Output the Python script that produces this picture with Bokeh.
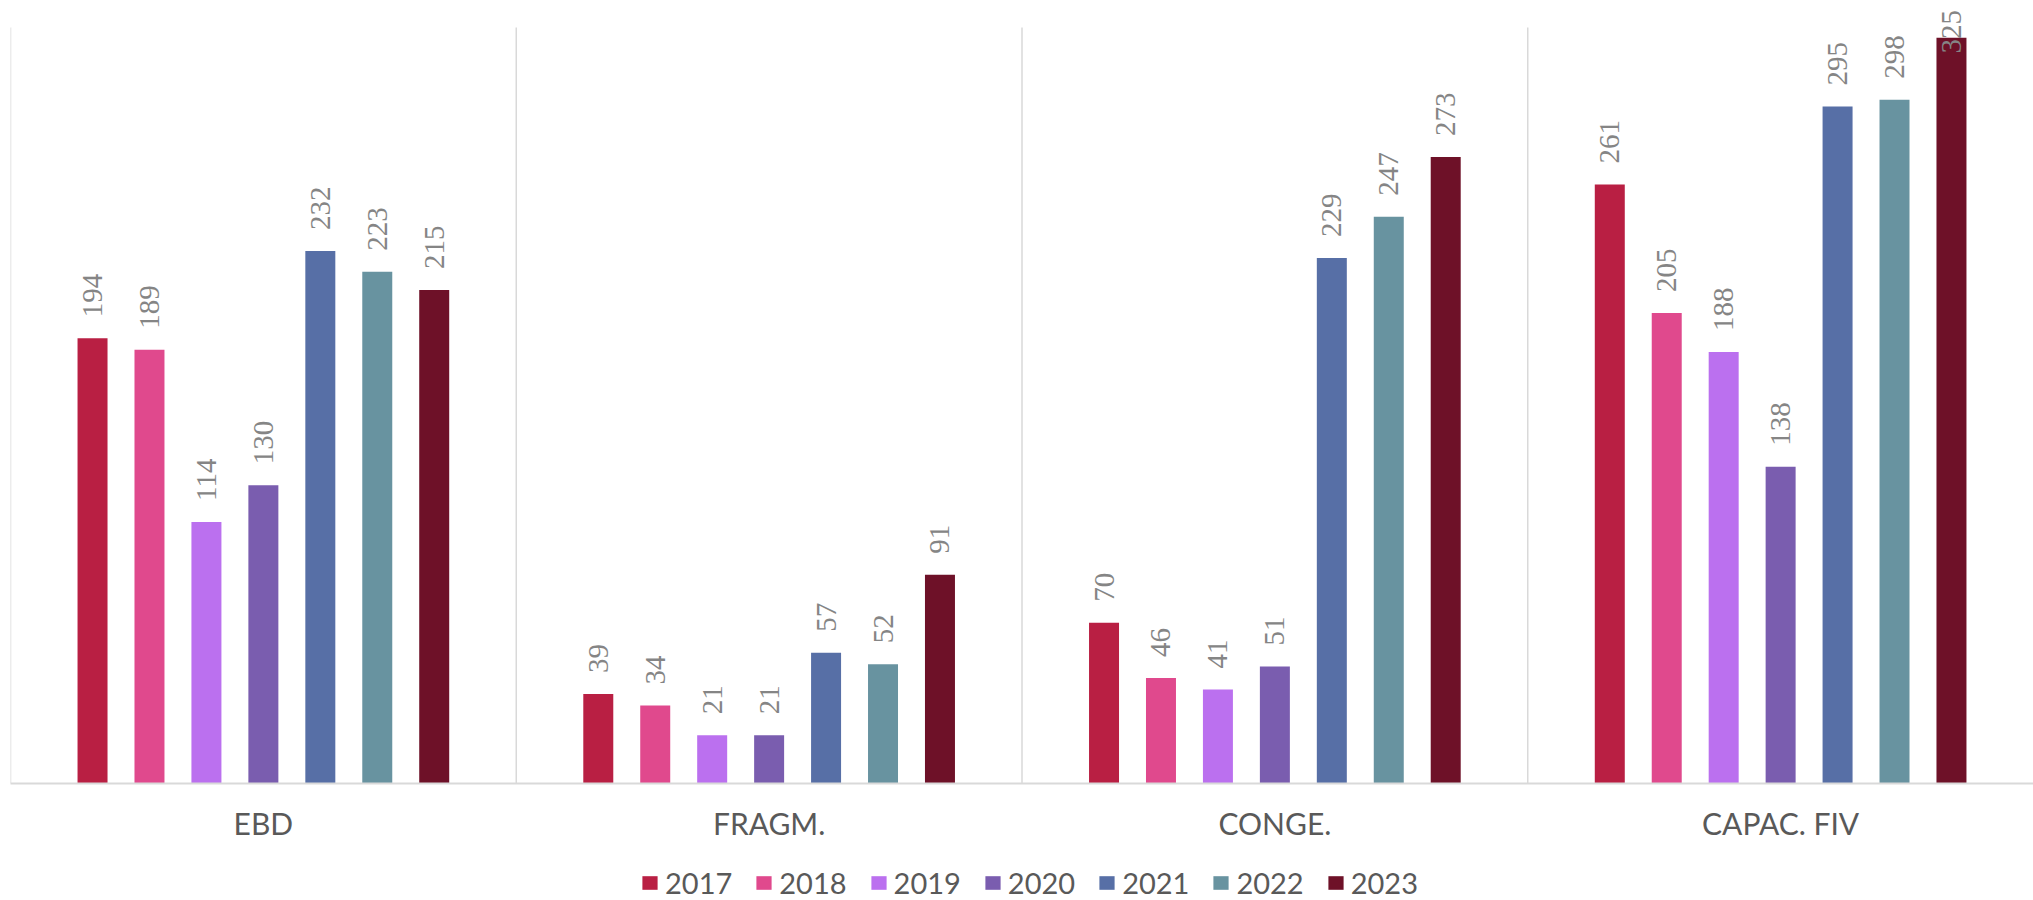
import math
from bokeh.plotting import figure
from bokeh.layouts import column
from bokeh.models import (FactorRange, Range1d, ColumnDataSource, LabelSet, Legend,
                          LegendItem)
from bokeh.transform import dodge
from bokeh.embed import file_html
from bokeh.resources import INLINE

# ---- data ----
categories = ["EBD", "FRAGM.", "CONGE.", "CAPAC. FIV"]
years = ["2017", "2018", "2019", "2020", "2021", "2022", "2023"]
v2017 = [194, 39, 70, 261]
v2018 = [189, 34, 46, 205]
v2019 = [114, 21, 41, 188]
v2020 = [130, 21, 51, 138]
v2021 = [232, 57, 229, 295]
v2022 = [223, 52, 247, 298]
v2023 = [215, 91, 273, 325]
colors = ["#B91F43", "#E0498D", "#BB70EF", "#7A5DAF", "#576FA6", "#6893A0", "#6E1128"]

series = [v2017, v2018, v2019, v2020, v2021, v2022, v2023]

# ---- styles ----
FONT = "Lato"
STEP = 0.1126
BAR_W = 0.0593
Y_END = 341.2
SEP_TOP = 329.4
LABEL_CAP = 309   # labels that would leave the chart are pulled down (as the original does)
W = 2033
H_MAIN = 860
H_LEG = 40

data = {"cat": categories}
for y, vals in zip(years, series):
    data["v" + y] = vals
    data["t" + y] = [str(v) for v in vals]
    data["l" + y] = [min(v, LABEL_CAP) for v in vals]
source = ColumnDataSource(data)

p = figure(x_range=FactorRange(*categories), y_range=Range1d(0, Y_END),
           width=W, height=H_MAIN, output_backend="svg", toolbar_location=None,
           min_border_left=10, min_border_right=0, min_border_top=0,
           min_border_bottom=H_MAIN - 783)

# category separators
p.segment(x0=dodge("cat", -0.5, range=p.x_range), y0=0,
          x1=dodge("cat", -0.5, range=p.x_range), y1=SEP_TOP,
          source=source, line_color="#d9d9d9", line_width=1.5)

for i, (y, c) in enumerate(zip(years, colors)):
    off = (i - 3) * STEP
    p.vbar(x=dodge("cat", off, range=p.x_range), top="v" + y, width=BAR_W,
           source=source, fill_color=c, line_color=None)
    lbl = LabelSet(x=dodge("cat", off, range=p.x_range), y="l" + y, text="t" + y,
                   source=source, angle=math.pi / 2, text_align="left",
                   text_baseline="middle", y_offset=21,
                   text_font=FONT, text_font_size="29px", text_color="#858585")
    p.add_layout(lbl)

p.yaxis.visible = False
p.xgrid.grid_line_color = None
p.ygrid.grid_line_color = None
p.outline_line_color = None
p.background_fill_color = None
p.border_fill_color = "white"

ax = p.xaxis[0]
ax.axis_line_color = "#d9d9d9"
ax.axis_line_width = 2
ax.major_tick_line_color = None
ax.minor_tick_line_color = None
ax.major_label_text_font = FONT
ax.major_label_text_font_size = "30px"
ax.major_label_text_color = "#595959"
ax.major_label_standoff = 15

# ---- legend strip (swatches are zero-height bars, only their legend entries show) ----
lf = figure(width=W, height=H_LEG, x_range=FactorRange(*years), y_range=Range1d(0, 1),
            output_backend="svg", toolbar_location=None,
            min_border_left=10, min_border_right=0, min_border_top=0, min_border_bottom=0)
lf.axis.visible = False
lf.grid.grid_line_color = None
lf.outline_line_color = None
items = []
for y, c in zip(years, colors):
    r = lf.vbar(x=[y], top=[0], bottom=[0], width=0.1, fill_color=c, line_color=None)
    items.append(LegendItem(label=y, renderers=[r]))
legend = Legend(items=items, orientation="horizontal", location=(630, 0),
                glyph_width=19, glyph_height=17, label_standoff=6, spacing=22,
                label_text_font=FONT, label_text_font_size="29px",
                label_text_color="#595959", border_line_color=None,
                background_fill_alpha=0, padding=0, margin=0)
lf.add_layout(legend)

layout = column(p, lf, spacing=0)
open("out.html", "w").write(file_html(layout, INLINE))
